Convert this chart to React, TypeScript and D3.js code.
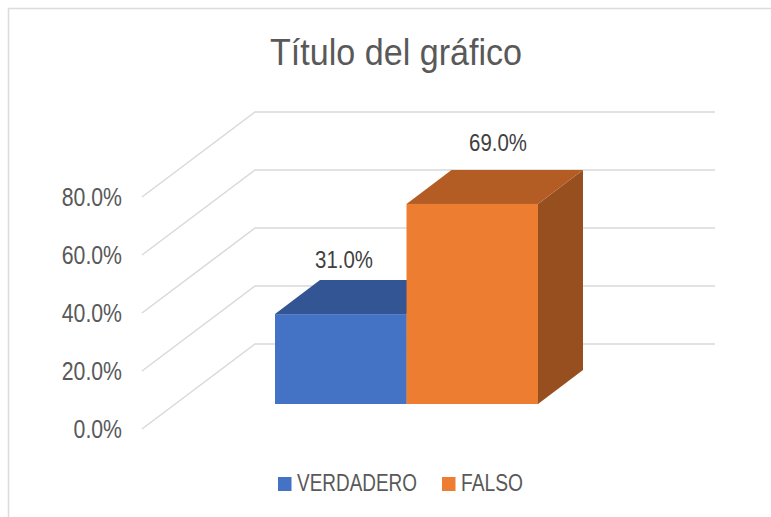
import React from "react";
import * as d3 from "d3";

const categories = ["VERDADERO", "FALSO"];
const values = [31.0, 69.0];
const ticks = [0, 20, 40, 60, 80];
const frontColors = ["#4472c4", "#ed7d31"];
const topColors = ["#335593", "#b35d25"];
const sideColors = ["#2a4678", "#984f1f"];
const title = "Título del gráfico";
const FONT = "'Liberation Sans', Arial, sans-serif";
const GREY = "#595959";
const labelCenters = [344, 498];
const labelBaselines = [268, 151];
const legendBoxX = [278, 442];
const legendTextX = [297, 461];
const legendTextW = [120, 62];

export default function App() {
  const y = d3.scaleLinear().domain([0, 80]).range([429, 197]);
  const base = d3.scaleLinear().domain([0, 80]).range([404, 172]);
  const x = d3.scaleBand<string>().domain(categories).range([275, 538]).paddingInner(0);
  const depthX = 45;
  const depthY = -34;
  const wallX = 113;
  const wallY = -85;
  const squeeze = 0.85;
  const fmt = (v: number) => d3.format(".1f")(v) + "%";
  const line = d3.line();

  return (
    <svg width={771} height={517} style={{ position: "absolute", left: 0, top: 0, background: "#fff" }} fontFamily={FONT}>
      <path d="M8.5,517 V8.5 H771" fill="none" stroke="#dcdcdc" strokeWidth={1.5} />
      <text x={270} y={65} fontSize={37} fill={GREY} textLength={252} lengthAdjust="spacingAndGlyphs">{title}</text>
      {ticks.map((t) => (
        <g key={t}>
          <path
            d={line([[142, y(t)], [142 + wallX, y(t) + wallY], [715, y(t) + wallY]]) ?? ""}
            fill="none"
            stroke="#d9d9d9"
            strokeWidth={1.5}
          />
          <text transform={`translate(122,${y(t) + 8.5}) scale(${squeeze},1)`} textAnchor="end" fontSize={25} fill={GREY}>{fmt(t)}</text>
        </g>
      ))}
      {categories.map((c, i) => {
        const x0 = x(c)!;
        const x1 = x0 + x.bandwidth();
        const top = base(values[i]);
        const bottom = base(0);
        return (
          <g key={c}>
            <path d={line([[x1, top], [x1 + depthX, top + depthY], [x1 + depthX, bottom + depthY], [x1, bottom]])! + "Z"} fill={sideColors[i]} />
            <path d={line([[x0, top], [x0 + depthX, top + depthY], [x1 + depthX, top + depthY], [x1, top]])! + "Z"} fill={topColors[i]} />
            <rect x={x0} y={top} width={x.bandwidth()} height={bottom - top} fill={frontColors[i]} />
            <text transform={`translate(${labelCenters[i]},${labelBaselines[i]}) scale(${squeeze},1)`} textAnchor="middle" fontSize={24} fill="#404040">{fmt(values[i])}</text>
          </g>
        );
      })}
      {categories.map((c, i) => (
        <g key={c}>
          <rect x={legendBoxX[i]} y={477} width={13.5} height={14} fill={frontColors[i]} />
          <text x={legendTextX[i]} y={491} fontSize={23.5} fill={GREY} textLength={legendTextW[i]} lengthAdjust="spacingAndGlyphs">{c}</text>
        </g>
      ))}
    </svg>
  );
}
